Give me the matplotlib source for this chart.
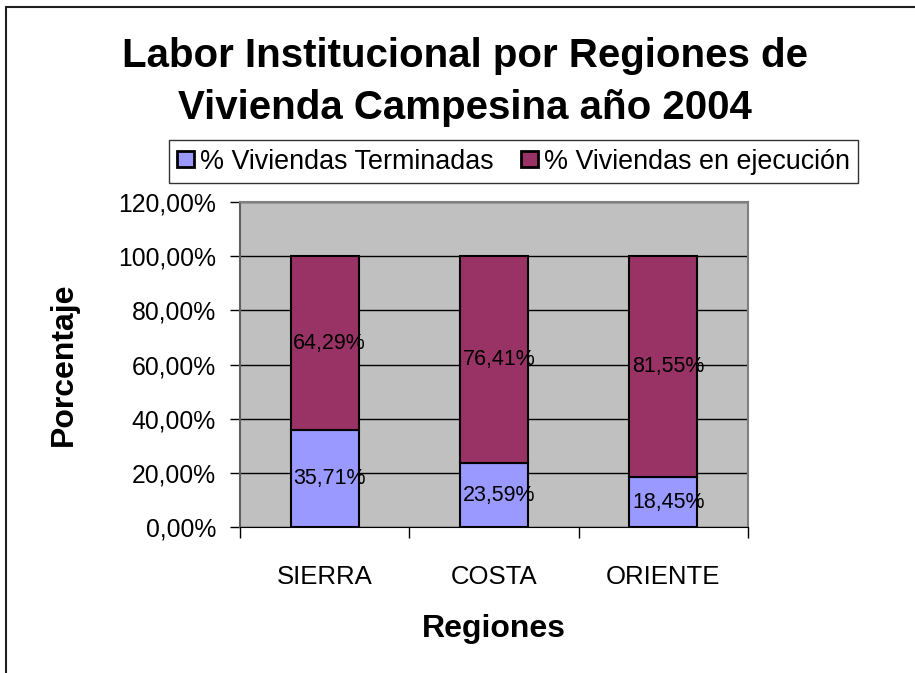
import numpy as np
import matplotlib
matplotlib.use("Agg")
import matplotlib.pyplot as plt
from matplotlib.patches import Rectangle

plt.rcParams['font.family'] = ['Liberation Sans', 'DejaVu Sans']

regiones = ["SIERRA", "COSTA", "ORIENTE"]
terminadas = [35.71, 23.59, 18.45]
en_ejecucion = [64.29, 76.41, 81.55]
y_ticks = [0, 20, 40, 60, 80, 100, 120]

fig = plt.figure(figsize=(9.15, 6.73), dpi=100)
ax = fig.add_axes([240/915, 1-527/673, 508/915, 325/673])
ax.set_facecolor('#C0C0C0')

x = np.arange(len(regiones))
ax.bar(x, terminadas, width=0.4, color='#9999FF', edgecolor='black', linewidth=1.5,
       label='% Viviendas Terminadas', zorder=3)
ax.bar(x, en_ejecucion, width=0.4, bottom=terminadas, color='#993366', edgecolor='black',
       linewidth=1.5, label='% Viviendas en ejecución', zorder=3)

for i in range(len(regiones)):
    t = terminadas[i]
    e = en_ejecucion[i]
    ax.text(x[i] + 0.03, t / 2, f"{t:.2f}%".replace('.', ','), ha='center', va='center',
            fontsize=15.5, zorder=4)
    ax.text(x[i] + 0.03, t + e / 2, f"{e:.2f}%".replace('.', ','), ha='center', va='center',
            fontsize=15.5, zorder=4)

ax.set_xlim(-0.5, 2.5)
ax.set_ylim(0, 120)
ax.set_yticks(y_ticks)
ax.set_yticklabels([f"{v:.2f}%".replace('.', ',') for v in y_ticks], fontsize=17.8)
ax.yaxis.grid(True, color='black', linewidth=1)
ax.set_axisbelow(True)
ax.tick_params(axis='y', length=7.2, width=1, pad=10)

ax.set_xticks(x)
ax.set_xticklabels(regiones, fontsize=18.5)
ax.set_xticks([-0.5, 0.5, 1.5, 2.5], minor=True)
ax.tick_params(axis='x', which='major', length=0, pad=27)
ax.tick_params(axis='x', which='minor', length=8, width=1)

for s in ['top', 'right']:
    ax.spines[s].set_color('#808080')
    ax.spines[s].set_linewidth(1.5)
ax.spines['left'].set_color('#606060')
ax.spines['left'].set_linewidth(1.5)
ax.spines['bottom'].set_color('black')

ax.set_xlabel('Regiones', fontsize=23, fontweight='bold', labelpad=18)
ax.set_ylabel('Porcentaje', fontsize=23, fontweight='bold', labelpad=28)

fig.text(0.508, 1-82/673, 'Labor Institucional por Regiones de\nVivienda Campesina año 2004',
         ha='center', va='center', fontsize=29, fontweight='bold', linespacing=1.45)

leg = fig.legend(loc='center', bbox_to_anchor=(513.5/915, 1-161.5/673), ncol=2, fontsize=19.4,
                 frameon=True, fancybox=False, edgecolor='black', handlelength=0.63,
                 handleheight=0.56, handletextpad=0.22, columnspacing=1.04, borderpad=0.3)
leg.get_frame().set_linewidth(1)
for h in leg.legend_handles:
    h.set_linewidth(2)

fig.patches.append(Rectangle((6/915, -0.05), 1.1, 1-7/673 + 0.05, transform=fig.transFigure,
                             fill=False, edgecolor='#202020', linewidth=1.5))

fig.savefig('out.png', dpi=100)
